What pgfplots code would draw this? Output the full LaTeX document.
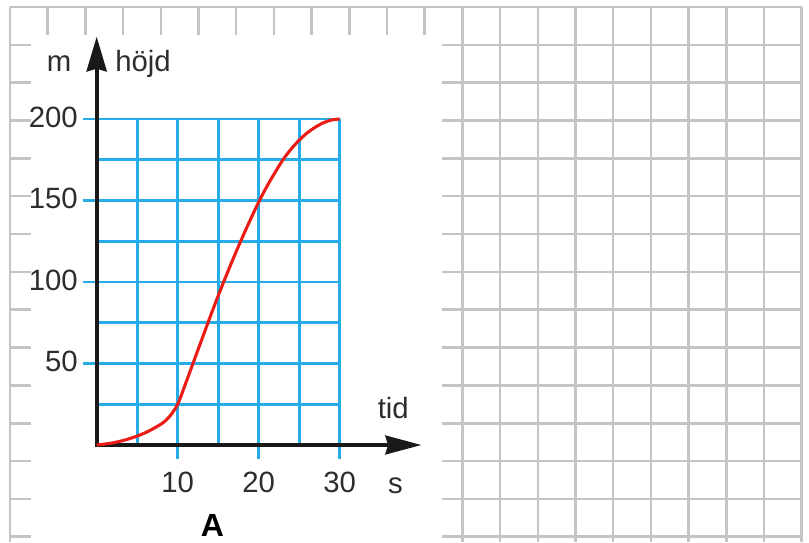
\documentclass[border=0pt]{standalone}
\usepackage{pgfplots}
\pgfplotsset{compat=1.18}
\usepackage{fontspec}
\setmainfont{Liberation Sans}
\usetikzlibrary{arrows.meta}
\definecolor{paper}{RGB}{196,196,196}
\definecolor{gridblue}{RGB}{38,172,232}
\definecolor{curvered}{RGB}{235,28,22}
\definecolor{ink}{RGB}{45,45,45}

\begin{document}
\begin{tikzpicture}[x=0.75pt,y=0.75pt]
\useasboundingbox (0,0) rectangle (809,542);
\fill[white] (0,0) rectangle (809,542);
% graph paper behind the chart
\foreach \k in {0,...,21}
  \draw[paper, line width=1.9pt] ({10+37.7*\k},0) -- ({10+37.7*\k},535);
\foreach \k in {0,...,14}
  \draw[paper, line width=1.9pt] (10,{535-37.84*\k}) -- (801.7,{535-37.84*\k});
\fill[white] (31,0) rectangle (442,507);

\begin{axis}[
    at={(72.5pt,72.75pt)}, anchor=origin,
    x=6.075pt, y=1.2225pt,
    xmin=0, xmax=30, ymin=0, ymax=200,
    axis lines=left, axis line style={draw=none},
    clip=false,
    xtick={10,20,30}, ytick={50,100,150,200},
    minor xtick={5,15,25}, minor ytick={25,75,125,175},
    grid=both,
    major grid style={gridblue, line width=2pt},
    minor grid style={gridblue, line width=2pt},
    tick style={gridblue, line width=2pt},
    tick align=outside,
    major tick length=10.5pt, minor tick length=0pt,
    every tick label/.append style={font=\fontsize{22}{26}\selectfont, text=ink, inner sep=0pt},
    xticklabel style={anchor=north, yshift=-9.5pt},
    yticklabel style={anchor=east, xshift=-3.5pt, yshift=1.5pt},
    /pgf/number format/assume math mode=true,
  ]
  \draw[black!90, line width=3pt, line join=miter,
        {Stealth[length=26pt, width=15pt, inset=2pt]}-{Stealth[length=27pt, width=14pt, inset=2pt]}]
    (axis cs:0,250.5) -- (axis cs:0,0) -- (axis cs:40.1,0);
  \addplot[curvered, line width=2.3pt, smooth] coordinates {
    (0,0) (2,1.3) (4,3.8) (6,7.5) (8,13) (9,17.5) (10,25) (11,38) (12,51.5)
    (13,65) (14,78.5) (15,91.5) (16,104) (17,116) (18,127.5) (19,138.5)
    (20,149) (21,158.5) (22,167) (23,175) (24,181.5) (25,187) (26,191.5)
    (27,195) (28,197.7) (29,199.4) (30,200)
  };
\end{axis}

\begin{scope}[every node/.style={inner sep=0pt, text=ink, font=\fontsize{22}{26}\selectfont}]
  \node[anchor=base] at (59,470.3) {m};
  \node[anchor=base west] at (115,470.3) {höjd};
  \node[anchor=base] at (393.3,123.7) {tid};
  \node[anchor=base] at (395.5,48.7) {s};
  \node[anchor=base, text=black, font=\bfseries\fontsize{24}{28}\selectfont] at (212.5,5.3) {A};
\end{scope}
\end{tikzpicture}
\end{document}
